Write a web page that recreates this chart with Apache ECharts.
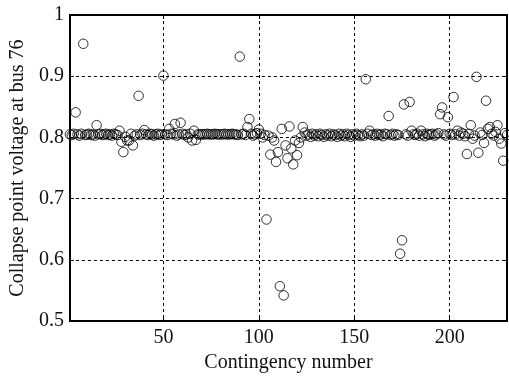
<!DOCTYPE html>
<html>
<head>
<meta charset="utf-8">
<script src="https://cdn.jsdelivr.net/npm/echarts@6.0.0/dist/echarts.min.js"></script>
<style>
  html, body { margin: 0; padding: 0; background: #fff; }
  #chart { width: 509px; height: 378px; }
</style>
</head>
<body>
<div id="chart"></div>
<script>
// contingency numbers 1..230, voltage
const voltage = [
  0.805, 0.804, 0.806, 0.841, 0.805, 0.803, 0.806, 0.953, 0.804, 0.805,
  0.806, 0.804, 0.805, 0.803, 0.820, 0.805, 0.806, 0.804, 0.805, 0.806,
  0.804, 0.805, 0.803, 0.806, 0.805, 0.804, 0.811, 0.793, 0.776, 0.801,
  0.795, 0.795, 0.806, 0.787, 0.803, 0.805, 0.868, 0.804, 0.806, 0.812,
  0.805, 0.804, 0.806, 0.805, 0.803, 0.805, 0.806, 0.804, 0.805, 0.901,
  0.805, 0.804, 0.814, 0.806, 0.805, 0.822, 0.803, 0.805, 0.824, 0.806,
  0.804, 0.805, 0.800, 0.806, 0.795, 0.811, 0.796, 0.805, 0.805, 0.805,
  0.805, 0.805, 0.806, 0.805, 0.805, 0.805, 0.806, 0.805, 0.805, 0.805,
  0.805, 0.806, 0.805, 0.805, 0.805, 0.806, 0.805, 0.805, 0.804, 0.932,
  0.805, 0.806, 0.804, 0.817, 0.830, 0.806, 0.803, 0.805, 0.807, 0.813,
  0.806, 0.800, 0.804, 0.666, 0.803, 0.772, 0.800, 0.795, 0.760, 0.776,
  0.557, 0.814, 0.542, 0.787, 0.766, 0.818, 0.782, 0.756, 0.795, 0.771,
  0.791, 0.800, 0.817, 0.808, 0.803, 0.805, 0.801, 0.806, 0.803, 0.805,
  0.802, 0.806, 0.804, 0.801, 0.805, 0.803, 0.806, 0.802, 0.805, 0.804,
  0.801, 0.806, 0.803, 0.805, 0.802, 0.806, 0.804, 0.801, 0.805, 0.803,
  0.806, 0.804, 0.802, 0.805, 0.803, 0.895, 0.806, 0.811, 0.804, 0.805,
  0.803, 0.806, 0.804, 0.805, 0.802, 0.806, 0.805, 0.835, 0.804, 0.806,
  0.803, 0.805, 0.804, 0.610, 0.632, 0.854, 0.805, 0.803, 0.858, 0.811,
  0.805, 0.804, 0.806, 0.803, 0.811, 0.805, 0.802, 0.806, 0.804, 0.805,
  0.806, 0.803, 0.805, 0.807, 0.838, 0.849, 0.805, 0.803, 0.833, 0.806,
  0.804, 0.866, 0.805, 0.811, 0.803, 0.808, 0.806, 0.802, 0.773, 0.806,
  0.820, 0.798, 0.803, 0.899, 0.775, 0.808, 0.804, 0.791, 0.860, 0.814,
  0.817, 0.806, 0.803, 0.809, 0.820, 0.798, 0.790, 0.762, 0.807, 0.804
]
const xTicks = [50, 100, 150, 200]

const font = "'Liberation Serif', 'Times New Roman', serif"
const points = voltage.map((v, i) => [i + 1, v])

const chart = echarts.init(document.getElementById('chart'))

const dashed = { color: '#000', width: 1, type: [3, 3] }
const boxLine = { show: true, lineStyle: { color: '#000', width: 2 } }
const innerTick = { show: true, inside: true, length: 4, lineStyle: { color: '#000', width: 1 } }

chart.setOption({
  backgroundColor: '#fff',
  animation: false,
  grid: { left: 67, right: 2, top: 15, bottom: 54 },
  xAxis: [
    {
      type: 'value', min: 1, max: 230,
      name: 'Contingency number', nameLocation: 'middle', nameGap: 30,
      nameTextStyle: { fontFamily: font, fontSize: 20, color: '#111' },
      axisLine: boxLine,
      axisTick: Object.assign({ customValues: xTicks }, innerTick),
      axisLabel: { customValues: xTicks, fontFamily: font, fontSize: 20, color: '#111', margin: 7 },
      splitLine: { show: true, lineStyle: dashed }
    },
    {
      type: 'value', min: 1, max: 230, position: 'top',
      axisLine: boxLine,
      axisTick: Object.assign({ customValues: xTicks }, innerTick),
      axisLabel: { show: false },
      splitLine: { show: false }
    }
  ],
  yAxis: [
    {
      type: 'value', min: 0.5, max: 1, interval: 0.1,
      name: 'Collapse point voltage at bus 76', nameLocation: 'middle', nameGap: 40,
      nameTextStyle: { fontFamily: font, fontSize: 20, color: '#111' },
      axisLine: boxLine,
      axisTick: innerTick,
      axisLabel: { fontFamily: font, fontSize: 20, color: '#111', margin: 6 },
      splitLine: { show: true, lineStyle: dashed }
    },
    {
      type: 'value', min: 0.5, max: 1, interval: 0.1, position: 'right',
      axisLine: boxLine,
      axisTick: innerTick,
      axisLabel: { show: false },
      splitLine: { show: false }
    }
  ],
  series: [
    {
      type: 'scatter',
      data: points,
      symbol: 'circle',
      symbolSize: 9.5,
      clip: false,
      itemStyle: { color: 'rgba(0,0,0,0)', borderColor: '#000', borderWidth: 1 }
    }
  ]
})
</script>
</body>
</html>
